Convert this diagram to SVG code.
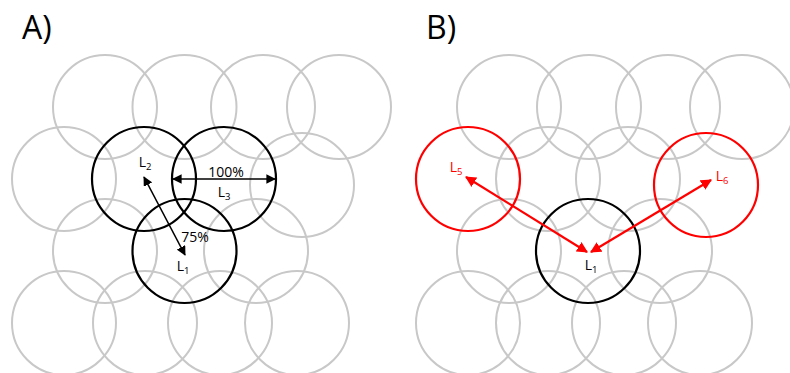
<svg xmlns="http://www.w3.org/2000/svg" width="790" height="373" viewBox="0 0 790 373">
<style>
.g{fill:none;stroke:#c8c8c8;stroke-width:2}
.k{fill:none;stroke:#000;stroke-width:2.2}
.r{fill:none;stroke:#ff0000;stroke-width:2.2}
text{font-family:"Open Sans","Liberation Sans",sans-serif}
.lb{font-size:14px;text-anchor:middle}
.sub{font-size:9.5px}
.title{font-size:32px}
</style>
<defs>
<marker id="ak" viewBox="0 0 10 10" refX="9" refY="5" markerWidth="6" markerHeight="6" orient="auto-start-reverse" markerUnits="strokeWidth"><path d="M0,0 L10,5 L0,10 z" fill="#000"/></marker>
<marker id="ar" viewBox="0 0 10 10" refX="9" refY="5" markerWidth="5" markerHeight="5" orient="auto-start-reverse" markerUnits="strokeWidth"><path d="M0,0 L10,5 L0,10 z" fill="#ff0000"/></marker>
</defs>
<text class="title" x="22" y="39">A)</text>
<text class="title" x="426" y="39">B)</text>
<g id="gridA">
<circle class="g" cx="105" cy="107" r="52"/>
<circle class="g" cx="184.5" cy="107" r="52"/>
<circle class="g" cx="263" cy="107" r="52"/>
<circle class="g" cx="339" cy="107" r="52"/>
<circle class="g" cx="64" cy="179" r="52"/>
<circle class="g" cx="302" cy="185" r="52"/>
<circle class="g" cx="105" cy="251" r="52"/>
<circle class="g" cx="256" cy="251" r="52"/>
<circle class="g" cx="64" cy="323" r="52"/>
<circle class="g" cx="145" cy="323" r="52"/>
<circle class="g" cx="220" cy="323" r="52"/>
<circle class="g" cx="297" cy="323" r="52"/>
</g>
<g id="gridB">
<circle class="g" cx="509" cy="107" r="52"/>
<circle class="g" cx="589" cy="107" r="52"/>
<circle class="g" cx="668" cy="107" r="52"/>
<circle class="g" cx="742" cy="107" r="52"/>
<circle class="g" cx="548" cy="179" r="52"/>
<circle class="g" cx="628" cy="179" r="52"/>
<circle class="g" cx="509" cy="251" r="52"/>
<circle class="g" cx="660" cy="251" r="52"/>
<circle class="g" cx="468" cy="323" r="52"/>
<circle class="g" cx="548" cy="323" r="52"/>
<circle class="g" cx="624" cy="323" r="52"/>
<circle class="g" cx="700" cy="323" r="52"/>
</g>
<g id="A-L2"><circle class="k" cx="144" cy="179" r="52"/><text class="lb" x="145" y="167">L<tspan class="sub" dy="3">2</tspan></text></g>
<g id="A-L3"><circle class="k" cx="224" cy="179" r="52"/><text class="lb" x="224" y="197">L<tspan class="sub" dy="3">3</tspan></text></g>
<g id="A-L1"><circle class="k" cx="184.5" cy="251" r="52"/><text class="lb" x="183" y="271">L<tspan class="sub" dy="3">1</tspan></text></g>
<g id="B-L5"><circle class="r" cx="468" cy="179" r="52"/><text class="lb" x="456" y="172" fill="#ff0000">L<tspan class="sub" dy="3">5</tspan></text></g>
<g id="B-L6"><circle class="r" cx="706" cy="185" r="52"/><text class="lb" x="722" y="181" fill="#ff0000">L<tspan class="sub" dy="3">6</tspan></text></g>
<g id="B-L1"><circle class="k" cx="588" cy="251" r="52"/><text class="lb" x="591" y="270">L<tspan class="sub" dy="3">1</tspan></text></g>
<g id="connectors">
<line x1="173" y1="179" x2="275" y2="179" stroke="#000" stroke-width="1.6" marker-start="url(#ak)" marker-end="url(#ak)"/>
<text class="lb" x="226" y="177">100%</text>
<line x1="144" y1="177" x2="185" y2="255" stroke="#000" stroke-width="1.6" marker-start="url(#ak)" marker-end="url(#ak)"/>
<text class="lb" x="195" y="242">75%</text>
<line x1="466" y1="177" x2="587" y2="252" stroke="#ff0000" stroke-width="2.2" marker-start="url(#ar)" marker-end="url(#ar)"/>
<line x1="591" y1="252" x2="711" y2="180" stroke="#ff0000" stroke-width="2.2" marker-start="url(#ar)" marker-end="url(#ar)"/>
</g>
</svg>
